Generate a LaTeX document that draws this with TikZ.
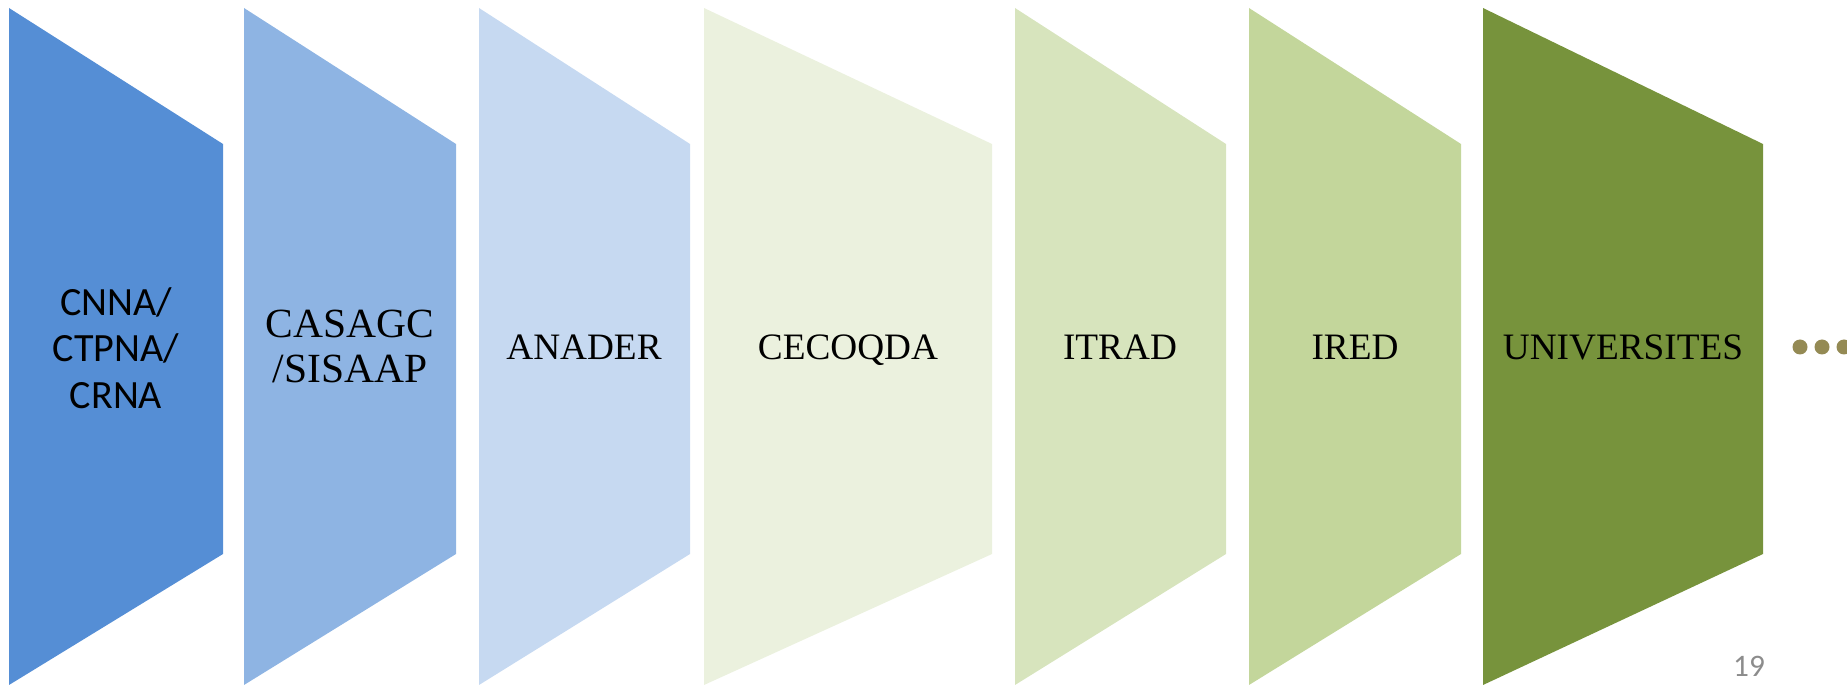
\documentclass[tikz,border=0pt]{standalone}
\usepackage{fontspec}
\setmainfont{Liberation Serif}
\newfontfamily\calibri{Carlito}
\usepackage{xcolor}
\usetikzlibrary{positioning}
\definecolor{stageA}{HTML}{558ED5}
\definecolor{stageB}{HTML}{8EB4E3}
\definecolor{stageC}{HTML}{C6D9F1}
\definecolor{stageD}{HTML}{EBF1DE}
\definecolor{stageE}{HTML}{D7E4BD}
\definecolor{stageF}{HTML}{C3D69B}
\definecolor{stageG}{HTML}{77933C}
\definecolor{dotcol}{HTML}{948A54}
\tikzset{
	stagetext/.style = {
		align=center, inner sep=0pt, text=black,
		font=\fontsize{10.6}{12.5}\selectfont,
	}
}

\begin{document}
\begin{tikzpicture}[x=0.01cm,y=-0.01cm]
		\useasboundingbox (0,0) rectangle (1847,685);
		% chevron panels: left edge / right edge / colour
		\foreach \l/\r/\c in {9/223/stageA, 244/456/stageB, 479/690/stageC,
			704/992/stageD, 1015/1226/stageE, 1249/1461/stageF, 1483/1763/stageG}
			\fill[\c] (\l,8) -- (\r,144) -- (\r,554) -- (\l,685) -- cycle;
		
		\node[stagetext, font=\calibri\fontsize{11.4}{13.2}\selectfont] (cnna) at (116,348) {CNNA/\\CTPNA/\\CRNA};
		\node[stagetext, font=\fontsize{11.8}{12.8}\selectfont] (casagc) at (350,346) {CASAGC\\/SISAAP};
		\node[stagetext, anchor=base] (anader) at (584,360) {ANADER};
		\node[stagetext, anchor=base] (cecoqda) at (848,360) {CECOQDA};
		\node[stagetext, anchor=base] (itrad) at (1120,360) {ITRAD};
		\node[stagetext, anchor=base] (ired) at (1355,360) {IRED};
		\node[stagetext, anchor=base] (univ) at (1623,360) {UNIVERSITES};
		
		\foreach \x in {1800,1822,1844}
			\fill[dotcol] (\x,347) circle (7.5);
		
		\node[anchor=base, inner sep=0pt, text=black!45, font=\calibri\fontsize{8.9}{10}\selectfont] (page) at (1749,676) {19};
	\end{tikzpicture}
\end{document}
